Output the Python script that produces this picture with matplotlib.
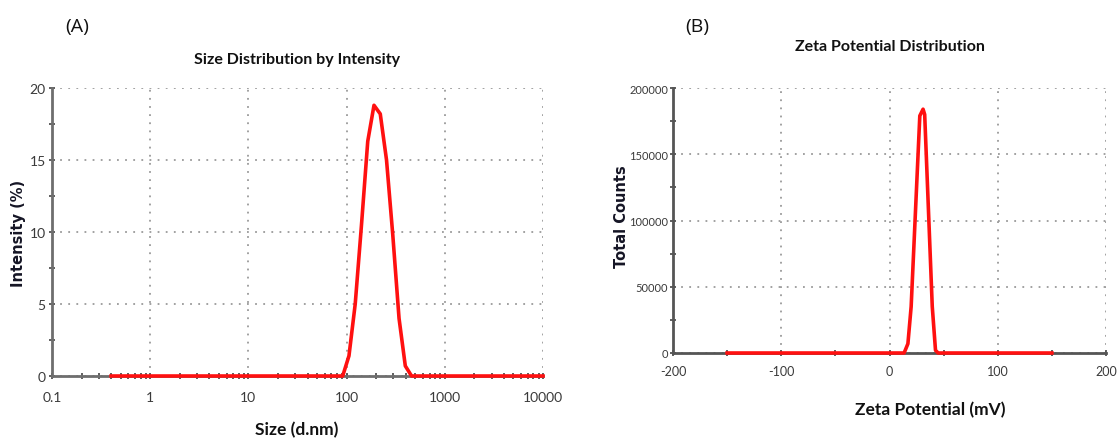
import matplotlib
matplotlib.use("Agg")
import matplotlib.pyplot as plt
from matplotlib.ticker import FixedLocator, NullFormatter, LogLocator, FixedFormatter

plt.rcParams['axes.unicode_minus'] = False

# ---- data ----
size_nm = [0.4, 91.28, 105.7, 122.4, 141.8, 164.2, 190.1, 220.2, 255.0, 295.3, 342.0, 396.1, 458.7, 10000]
intensity = [0, 0, 1.4, 5.0, 10.5, 16.3, 18.8, 18.2, 15.0, 9.8, 4.0, 0.7, 0, 0]

zeta_mv = [-150, 13.5, 17, 20, 28, 31, 32.5, 39.5, 42.5, 45, 150]
counts = [0, 0, 7000, 35000, 179000, 184000, 180000, 35000, 2000, 0, 0]

a_xticks = [0.1, 1, 10, 100, 1000, 10000]
a_xlabels = ["0.1", "1", "10", "100", "1000", "10000"]
a_yticks = [0, 5, 10, 15, 20]
b_xticks = [-200, -100, 0, 100, 200]
b_yticks = [0, 50000, 100000, 150000, 200000]

NARROW = ['Lato', 'DejaVu Sans']
AXC = '#6e6e6e'
GRIDC = '#9a9a9a'
TICKC = '#3a3a3a'

fig = plt.figure(figsize=(11.17, 4.39), dpi=100)

def style(ax, fs=10):
    for s in ['top', 'right']:
        ax.spines[s].set_visible(False)
    for s in ['left', 'bottom']:
        ax.spines[s].set_color(AXC)
        ax.spines[s].set_linewidth(2)
    ax.grid(True, which='major', color=GRIDC, linestyle=(0, (1, 3.5)), linewidth=1.3)
    ax.tick_params(which='both', direction='inout', color='#444444', width=1.2,
                   labelcolor=TICKC)
    ax.tick_params(which='major', length=5)
    ax.tick_params(which='minor', length=4)
    for lab in ax.get_xticklabels() + ax.get_yticklabels():
        lab.set_family(NARROW)
        lab.set_fontsize(fs)

# ---- Panel A ----
axA = fig.add_axes([52/1117, 1-377/439, 491/1117, 288/439])
axA.plot(size_nm, intensity, color='#ff1010', lw=2.6, clip_on=False, zorder=5)
axA.set_xscale('log')
axA.set_xlim(0.1, 10000)
axA.set_ylim(0, 20)
axA.xaxis.set_major_locator(FixedLocator(a_xticks))
axA.xaxis.set_major_formatter(FixedFormatter(a_xlabels))
axA.xaxis.set_minor_locator(LogLocator(base=10, subs=range(2, 10), numticks=20))
axA.xaxis.set_minor_formatter(NullFormatter())
axA.yaxis.set_major_locator(FixedLocator(a_yticks))
axA.yaxis.set_minor_locator(FixedLocator([2.5, 7.5, 12.5, 17.5]))
style(axA, 10)
axA.tick_params(axis='x', pad=8)
axA.tick_params(axis='y', pad=2)
axA.set_ylabel('Intensity (%)', fontsize=10.5, fontweight='bold', color='#151525',
               family='DejaVu Sans')
axA.yaxis.set_label_coords(-0.052, 0.5)
fig.text(297/1117, 1-60/439, 'Size Distribution by Intensity', ha='center', va='center',
         fontsize=11.5, fontweight='bold', family=NARROW, color='#111111')
fig.text(297/1117, 1-430/439, 'Size (d.nm)', ha='center', va='center',
         fontsize=12.5, fontweight='bold', family=NARROW, color='#111111')
fig.text(77/1117, 1-27/439, '(A)', ha='center', va='center', fontsize=14,
         family=['Open Sans', 'DejaVu Sans'], color='#111111')

# ---- Panel B ----
axB = fig.add_axes([673/1117, 1-354/439, 433/1117, 265/439])
axB.plot(zeta_mv, counts, color='#ff1010', lw=2.6, clip_on=False, zorder=5)
axB.set_xlim(-200, 200)
axB.set_ylim(0, 200000)
axB.xaxis.set_major_locator(FixedLocator(b_xticks))
axB.xaxis.set_minor_locator(FixedLocator([-150, -50, 50, 150]))
axB.yaxis.set_major_locator(FixedLocator(b_yticks))
axB.yaxis.set_minor_locator(FixedLocator([25000, 75000, 125000, 175000]))
style(axB, 9)
for lab in axB.get_yticklabels():
    lab.set_fontsize(8)
axB.spines['left'].set_color('#555555')
axB.spines['bottom'].set_color('#555555')
axB.tick_params(axis='x', pad=6)
axB.tick_params(axis='y', pad=1)
axB.set_ylabel('Total Counts', fontsize=10.5, fontweight='bold', color='#151525',
               family='DejaVu Sans')
axB.yaxis.set_label_coords(-0.102, 0.52)
fig.text(890/1117, 1-47/439, 'Zeta Potential Distribution', ha='center', va='center',
         fontsize=11.5, fontweight='bold', family=NARROW, color='#111111')
fig.text(930/1117, 1-410/439, 'Zeta Potential (mV)', ha='center', va='center',
         fontsize=12.5, fontweight='bold', family=NARROW, color='#111111')
fig.text(697/1117, 1-27/439, '(B)', ha='center', va='center', fontsize=14,
         family=['Open Sans', 'DejaVu Sans'], color='#111111')

fig.savefig('out.png', dpi=100)
